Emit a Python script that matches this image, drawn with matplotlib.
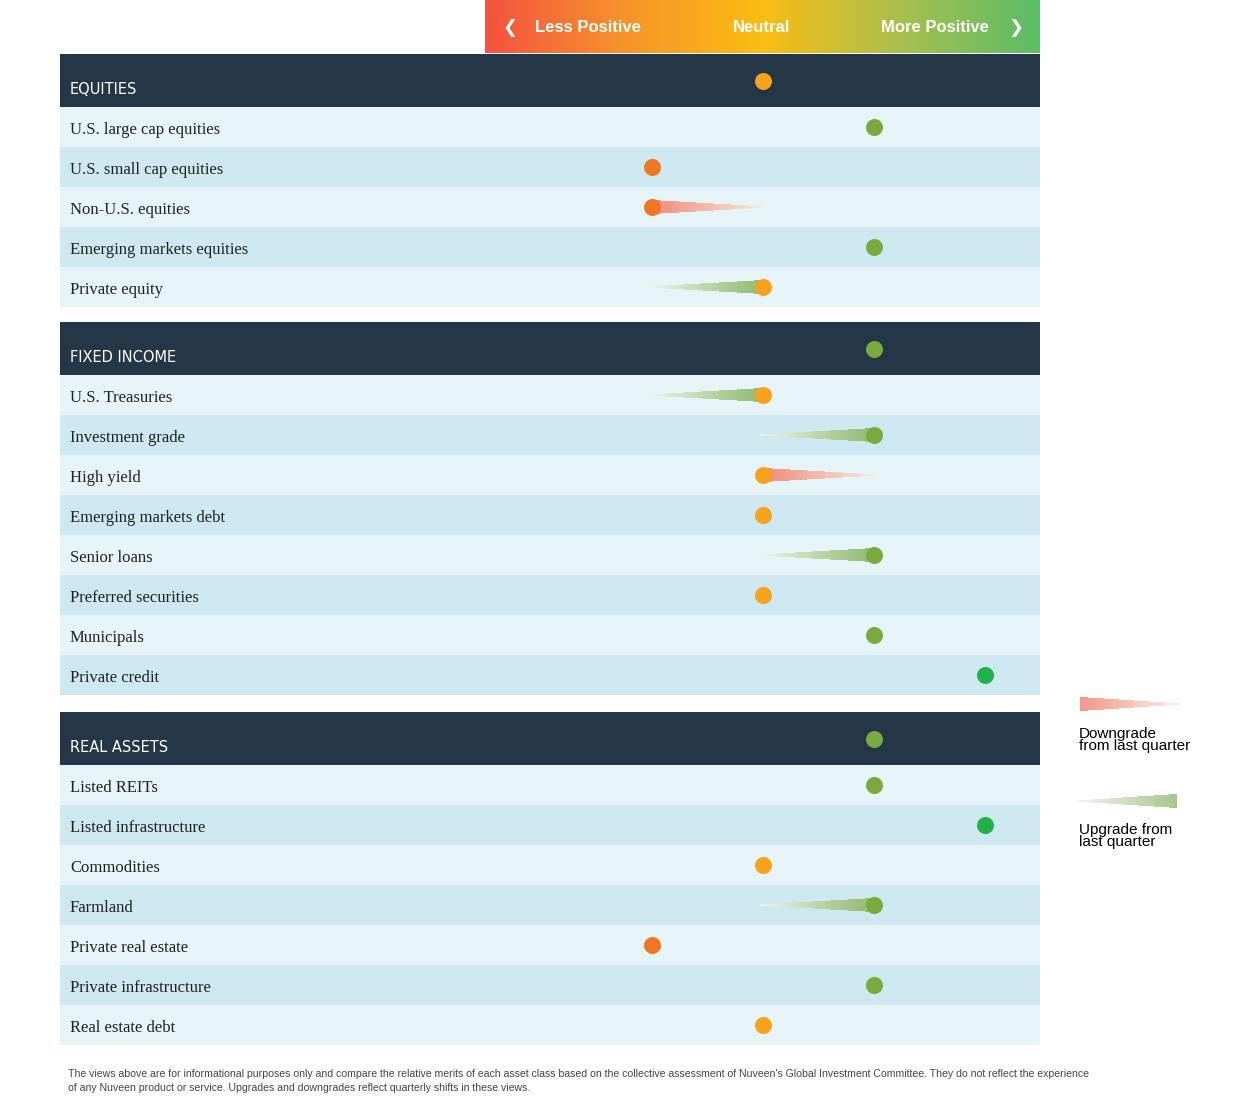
import numpy as np
import matplotlib.pyplot as plt
from matplotlib.colors import LinearSegmentedColormap, to_rgb

# data: score 2 = less positive, 3 = neutral, 4 = more positive, 5 = most positive
sections = ["EQUITIES", "FIXED INCOME", "REAL ASSETS"]
section_scores = [3, 4, 4]
equity_names = ["U.S. large cap equities", "U.S. small cap equities", "Non-U.S. equities",
                "Emerging markets equities", "Private equity"]
equity_now = [4, 2, 2, 4, 3]
equity_prev = [4, 2, 3, 4, 2]
fixed_names = ["U.S. Treasuries", "Investment grade", "High yield", "Emerging markets debt",
               "Senior loans", "Preferred securities", "Municipals", "Private credit"]
fixed_now = [3, 4, 3, 3, 4, 3, 4, 5]
fixed_prev = [2, 3, 4, 3, 3, 3, 4, 5]
real_names = ["Listed REITs", "Listed infrastructure", "Commodities", "Farmland",
              "Private real estate", "Private infrastructure", "Real estate debt"]
real_now = [4, 5, 3, 4, 2, 4, 3]
real_prev = [4, 5, 3, 3, 2, 4, 3]

dot_col = {2: "#ef7622", 3: "#f8a11c", 4: "#78aa3e", 5: "#22b04b"}
navy = "#253746"

fig = plt.figure(figsize=(12.58, 11.2), dpi=100)
ax = fig.add_axes([0, 0, 1, 1])
ax.set_xlim(0, 1258)
ax.set_ylim(1120, 0)
ax.axis("off")

def sx(s):
    return 430 + 111 * s

def wedge(x_thick, x_thin, y, c0, c1, n=80, half=6.5):
    c0, c1 = np.array(to_rgb(c0)), np.array(to_rgb(c1))
    for i in range(n):
        t0, t1 = i / n, (i + 1.3) / n
        xa = x_thick + (x_thin - x_thick) * t0
        xb = x_thick + (x_thin - x_thick) * min(t1, 1)
        ha, hb = half * (1 - t0), half * (1 - min(t1, 1))
        c = c0 + (c1 - c0) * t0
        ax.fill([xa, xb, xb, xa], [y - ha, y - hb, y + hb, y + ha], color=c, lw=0, zorder=3,
                antialiased=False)

# scale bar on top
cmap = LinearSegmentedColormap.from_list("g", ["#f4523f", "#f7932b", "#fbbd13", "#a9bf4f", "#5bbd67"])
ax.imshow(np.linspace(0, 1, 256)[None, :], cmap=cmap, aspect="auto", extent=[485, 1040, 53, 0], zorder=1)
hf = dict(color="white", fontsize=12, fontweight="bold", va="center", family="Liberation Sans")
ax.text(510, 28, "❮", color="white", fontsize=13, ha="center", va="center", fontweight="bold")
ax.text(588, 27, "Less Positive", ha="center", **hf)
ax.text(761, 27, "Neutral", ha="center", **hf)
ax.text(935, 27, "More Positive", ha="center", **hf)
ax.text(1016, 28, "❯", color="white", fontsize=13, ha="center", va="center", fontweight="bold")

groups = [(equity_names, equity_now, equity_prev, 54),
          (fixed_names, fixed_now, fixed_prev, 322),
          (real_names, real_now, real_prev, 712)]
for (names, now, prev, top), title, sc in zip(groups, sections, section_scores):
    ax.fill([60, 1040, 1040, 60], [top, top, top + 53, top + 53], color=navy, lw=0)
    ax.text(70, top + 36, title, color="white", fontsize=10.5, va="center", family="DejaVu Sans",
            fontweight="medium")
    ax.scatter(sx(sc), top + 27, s=150, color=dot_col[sc], zorder=4, lw=0)
    y0 = top + 53
    for i, (nm, a, b) in enumerate(zip(names, now, prev)):
        bg = "#e6f4f8" if i % 2 == 0 else "#cde8f0"
        ax.fill([60, 1040, 1040, 60], [y0 + 40 * i, y0 + 40 * i, y0 + 40 * (i + 1), y0 + 40 * (i + 1)],
                color=bg, lw=0)
        yc = y0 + 40 * i + 20
        ax.text(70, yc + 1, nm, fontsize=12, va="center_baseline", family="Liberation Serif",
                color="#222222")
        if a < b:
            wedge(sx(a), sx(b) + 3, yc, "#ef8a7a", "#f6ece0")
        elif a > b:
            wedge(sx(a), sx(b) - 3, yc, "#8fb870", "#eef3e6")
        ax.scatter(sx(a), yc, s=150, color=dot_col[a], zorder=4, lw=0)

# legend
wedge(1080, 1180, 704, "#f3988a", "#fcefe5")
ax.text(1079, 740, "Downgrade\nfrom last quarter", fontsize=11, va="center", linespacing=0.9,
        family="Liberation Sans")
wedge(1177, 1077, 801, "#a3c88d", "#f1f6ec")
ax.text(1079, 836, "Upgrade from\nlast quarter", fontsize=11, va="center", linespacing=0.9,
        family="Liberation Sans")

ax.text(68, 1081, "The views above are for informational purposes only and compare the relative merits of each asset class "
        "based on the collective assessment of Nuveen's Global Investment Committee. They do not reflect the experience\n"
        "of any Nuveen product or service. Upgrades and downgrades reflect quarterly shifts in these views.",
        fontsize=7.6, va="center", family="Liberation Sans", color="#444444", linespacing=1.4)

fig.savefig("out.png", dpi=100)
